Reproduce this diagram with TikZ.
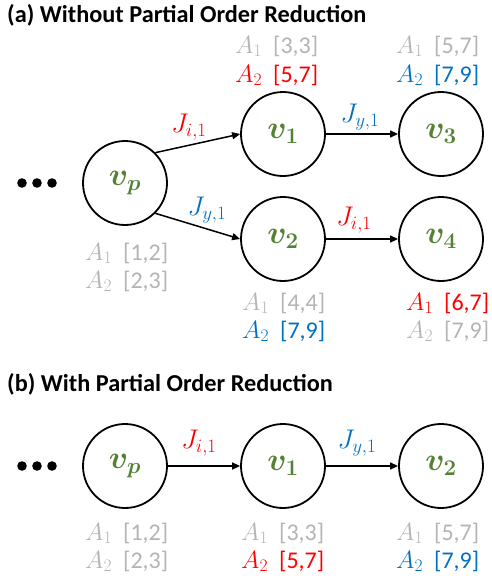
\RequirePackage{fix-cm}
\documentclass[tikz,border=0pt]{standalone}
\usepackage{amsmath,bm}
\usepackage{fontspec}
\setmainfont{Carlito}
\usetikzlibrary{arrows.meta}
\definecolor{vgreen}{RGB}{84,130,53}
\definecolor{jred}{RGB}{255,0,0}
\definecolor{jblue}{RGB}{0,112,192}
\definecolor{lgray}{RGB}{180,180,180}
\tikzset{
  state/.style={circle, draw, line width=1.8pt, minimum size=84pt, inner sep=0pt,
    font=\fontsize{32}{34}\selectfont, text=vgreen},
  edge/.style={line width=1.5pt, -{Triangle[length=8pt,width=7pt]}},
  ann/.style={anchor=base west, inner sep=0pt, font=\fontsize{24}{26}\selectfont},
  jlab/.style={inner sep=0pt, font=\fontsize{27}{29}\selectfont},
  title/.style={anchor=west, inner sep=0pt, font=\bfseries\fontsize{24.3}{26}\selectfont},
  dot/.style={fill=black}
}
\newcommand{\vv}[1]{$\bm{v}_{\bm{#1}}$}
\newcommand{\ann}[4]{\makebox[38pt][l]{\fontsize{25}{27}\selectfont\textcolor{#1}{$A_{#2}$}}\textcolor{#3}{#4}}
\begin{document}
\begin{tikzpicture}[x=1pt,y=-1pt]
\useasboundingbox (0,0) rectangle (491,579);
% ---------- (a)
\node[title] (ta) at (7,15) {(a) Without Partial Order Reduction};
\fill[dot] (22,183) circle (4.8pt) (37,183) circle (4.8pt) (52,183) circle (4.8pt);
\node[state] (ap) at (125,183) {\vv{p}};
\node[state] (a1) at (283,134) {\vv{1}};
\node[state] (a3) at (441,134) {\vv{3}};
\node[state] (a2) at (283,239) {\vv{2}};
\node[state] (a4) at (441,239) {\vv{4}};
\draw[edge] (ap.45) -- (a1.west);
\draw[edge] (ap.-45) -- (a2.west);
\draw[edge] (a1) -- (a3);
\draw[edge] (a2) -- (a4);
\node[jlab, text=jred] (ja1) at (189,127) {$J_{i,1}$};
\node[jlab, text=jblue] (ja2) at (207,210) {$J_{y,1}$};
\node[jlab, text=jblue] (ja3) at (360,117) {$J_{y,1}$};
\node[jlab, text=jred] (ja4) at (354,220) {$J_{i,1}$};
% annotations (a)
\node[ann] (n1a) at (235,53) {\ann{lgray}{1}{lgray}{[3,3]}};
\node[ann] (n1b) at (235,82) {\ann{jred}{2}{jred}{[5,7]}};
\node[ann] (n3a) at (396,53) {\ann{lgray}{1}{lgray}{[5,7]}};
\node[ann] (n3b) at (396,82) {\ann{jblue}{2}{jblue}{[7,9]}};
\node[ann] (npa) at (85,260) {\ann{lgray}{1}{lgray}{[1,2]}};
\node[ann] (npb) at (85,288) {\ann{lgray}{2}{lgray}{[2,3]}};
\node[ann] (n2a) at (242,310) {\ann{lgray}{1}{lgray}{[4,4]}};
\node[ann] (n2b) at (242,338) {\ann{jblue}{2}{jblue}{[7,9]}};
\node[ann] (n4a) at (406,310) {\ann{jred}{1}{jred}{[6,7]}};
\node[ann] (n4b) at (406,338) {\ann{lgray}{2}{lgray}{[7,9]}};
% ---------- (b)
\node[title] (tb) at (7,384) {(b) With Partial Order Reduction};
\fill[dot] (22,466) circle (4.8pt) (37,466) circle (4.8pt) (52,466) circle (4.8pt);
\node[state] (bp) at (125,466) {\vv{p}};
\node[state] (b1) at (283,466) {\vv{1}};
\node[state] (b2) at (441,466) {\vv{2}};
\draw[edge] (bp) -- (b1);
\draw[edge] (b1) -- (b2);
\node[jlab, text=jred] (jb1) at (199,443) {$J_{i,1}$};
\node[jlab, text=jblue] (jb2) at (357,443) {$J_{y,1}$};
\node[ann] (mpa) at (85,540) {\ann{lgray}{1}{lgray}{[1,2]}};
\node[ann] (mpb) at (85,568) {\ann{lgray}{2}{lgray}{[2,3]}};
\node[ann] (m1a) at (241,540) {\ann{lgray}{1}{lgray}{[3,3]}};
\node[ann] (m1b) at (241,568) {\ann{jred}{2}{jred}{[5,7]}};
\node[ann] (m2a) at (396,540) {\ann{lgray}{1}{lgray}{[5,7]}};
\node[ann] (m2b) at (396,568) {\ann{jblue}{2}{jblue}{[7,9]}};
\end{tikzpicture}
\end{document}
